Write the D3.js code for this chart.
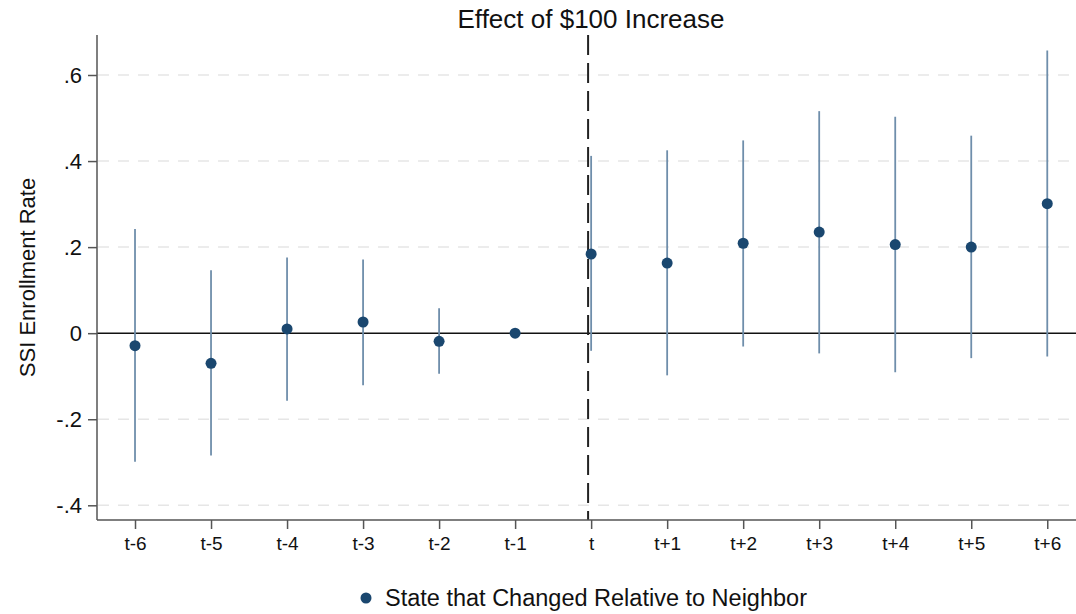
<!DOCTYPE html>
<html><head><meta charset="utf-8">
<script src="https://cdn.jsdelivr.net/npm/d3@7"></script>
<style>body{margin:0;background:#fff}text{font-family:"Liberation Sans",Arial,sans-serif}</style>
</head><body><svg id="c" width="1076" height="614"></svg>
<script>
const categories = ["t-6","t-5","t-4","t-3","t-2","t-1","t","t+1","t+2","t+3","t+4","t+5","t+6"];
const periods = [-6,-5,-4,-3,-2,-1,0,1,2,3,4,5,6];
const estimates = [-0.029,-0.070,0.010,0.026,-0.019,0,0.184,0.163,0.209,0.235,0.206,0.200,0.301];
const ciLow = [-0.299,-0.284,-0.157,-0.121,-0.094,null,-0.041,-0.098,-0.031,-0.047,-0.091,-0.058,-0.054];
const ciHigh = [0.242,0.146,0.176,0.171,0.058,null,0.412,0.425,0.448,0.516,0.503,0.459,0.657];
const yTicks = [-0.4,-0.2,0,0.2,0.4,0.6];
const yTickLabels = ["-.4","-.2","0",".2",".4",".6"];
const eventLine = -0.04;

const svg = d3.select("#c");
const L=97,R=1076,T=35,B=520;
const x = d3.scaleLinear().domain([-6.5,6.378]).range([L,R]);
const y = d3.scaleLinear().domain([-0.4,0.6]).range([505.3,75]);

// grid
svg.append("g").selectAll("line").data(yTicks.filter(d=>d!==0)).join("line")
  .attr("x1",L+1).attr("x2",R).attr("y1",d=>y(d)).attr("y2",d=>y(d))
  .attr("stroke","#e6e6e6").attr("stroke-width",1.5).attr("stroke-dasharray","11,9");

// zero line
svg.append("line").attr("x1",L).attr("x2",R).attr("y1",y(0)).attr("y2",y(0))
  .attr("stroke","#111").attr("stroke-width",1.6);

// event line
svg.append("line").attr("x1",x(eventLine)).attr("x2",x(eventLine)).attr("y1",T).attr("y2",B)
  .attr("stroke","#222").attr("stroke-width",2).attr("stroke-dasharray","20,8");

// axes
const yAxis = d3.axisLeft(y).tickValues(yTicks).tickFormat((d,i)=>yTickLabels[i]).tickSize(9).tickPadding(6);
const gy = svg.append("g").attr("transform",`translate(${L},0)`).call(yAxis);
gy.select(".domain").remove();
gy.append("line").attr("x1",0).attr("x2",0).attr("y1",T).attr("y2",B).attr("stroke","#555").attr("stroke-width",1.5);
gy.selectAll(".tick line").attr("stroke","#555").attr("stroke-width",1.5);
gy.selectAll(".tick text").attr("font-size",22).attr("fill","#111");

const xAxis = d3.axisBottom(x).tickValues(periods).tickFormat((d,i)=>categories[i]).tickSize(9).tickPadding(8);
const gx = svg.append("g").attr("transform",`translate(0,${B})`).call(xAxis);
gx.select(".domain").remove();
gx.append("line").attr("x1",L).attr("x2",R).attr("y1",0).attr("y2",0).attr("stroke","#555").attr("stroke-width",1.5);
gx.selectAll(".tick line").attr("stroke","#555").attr("stroke-width",1.5);
gx.selectAll(".tick text").attr("font-size",19).attr("fill","#111");

// CIs
const data = periods.map((p,i)=>({p,e:estimates[i],lo:ciLow[i],hi:ciHigh[i]}));
svg.append("g").selectAll("line").data(data.filter(d=>d.lo!==null)).join("line")
  .attr("x1",d=>x(d.p)).attr("x2",d=>x(d.p)).attr("y1",d=>y(d.lo)).attr("y2",d=>y(d.hi))
  .attr("stroke","#6f8eab").attr("stroke-width",1.8);

// points
svg.append("g").selectAll("circle").data(data).join("circle")
  .attr("cx",d=>x(d.p)).attr("cy",d=>y(d.e)).attr("r",5.5).attr("fill","#1a476f");

// title
svg.append("text").attr("x",591).attr("y",28).attr("text-anchor","middle").attr("font-size",26).attr("fill","#111").text("Effect of $100 Increase");

// y label
svg.append("text").attr("transform",`translate(35,${(T+B)/2}) rotate(-90)`).attr("text-anchor","middle").attr("font-size",22).attr("fill","#111").text("SSI Enrollment Rate");

// legend
svg.append("circle").attr("cx",366).attr("cy",598).attr("r",5.5).attr("fill","#1a476f");
svg.append("text").attr("x",385).attr("y",606).attr("font-size",23.5).attr("fill","#111").text("State that Changed Relative to Neighbor");
</script></body></html>
